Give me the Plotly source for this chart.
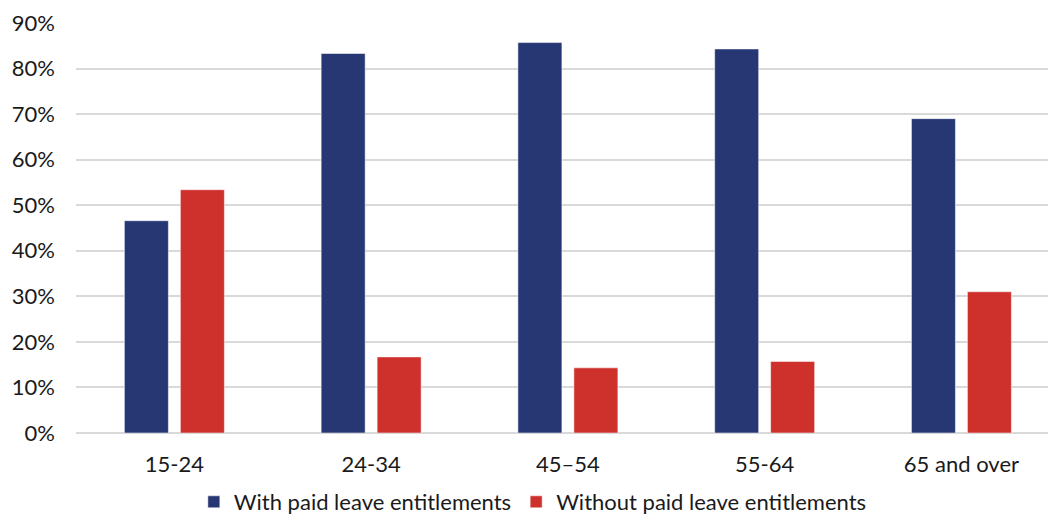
import plotly.graph_objects as go

age_groups = ["15-24", "24-34", "45–54", "55-64", "65 and over"]
with_paid_leave = [46.6, 83.3, 85.7, 84.3, 69.0]
without_paid_leave = [53.4, 16.7, 14.3, 15.7, 31.0]
y_ticks = [0, 10, 20, 30, 40, 50, 60, 70, 80, 90]
y_tick_labels = [f"{v}%" for v in y_ticks]

FONT = "Lato"
BLUE = "#273773"
RED = "#CE302C"

fig = go.Figure()
fig.add_trace(go.Bar(
    name="With paid leave entitlements",
    x=age_groups, y=with_paid_leave,
    marker=dict(color=BLUE, line=dict(color="rgba(255,255,255,0.5)", width=1)),
))
fig.add_trace(go.Bar(
    name="Without paid leave entitlements",
    x=age_groups, y=without_paid_leave,
    marker=dict(color=RED, line=dict(color="rgba(255,255,255,0.5)", width=1)),
))

fig.update_layout(
    width=1048, height=523,
    margin=dict(l=76, r=0, t=23, b=90),
    paper_bgcolor="white", plot_bgcolor="white",
    barmode="group", bargap=0.431, bargroupgap=0.214,
    font=dict(family=FONT, size=22, color="#1a1a1a"),
    showlegend=True,
    legend=dict(
        orientation="h", x=0.47, xanchor="center",
        yref="container", y=0.0, yanchor="bottom",
        font=dict(family=FONT, size=22, color="#1a1a1a"),
        itemwidth=30, traceorder="normal",
    ),
    xaxis=dict(
        type="category", range=[-0.5, 4.44], automargin=False,
        showgrid=False, showline=False, ticks="",
        tickfont=dict(family=FONT, size=22), ticklabelstandoff=16,
    ),
    yaxis=dict(
        range=[0, 90], tickvals=y_ticks, ticktext=y_tick_labels, automargin=False,
        showgrid=True, gridcolor="#d9d9d9", gridwidth=2,
        zeroline=True, zerolinecolor="#d9d9d9", zerolinewidth=2,
        showline=False, ticks="", ticklabelstandoff=20,
        tickfont=dict(family=FONT, size=22),
    ),
)

fig.write_html("out.html")
